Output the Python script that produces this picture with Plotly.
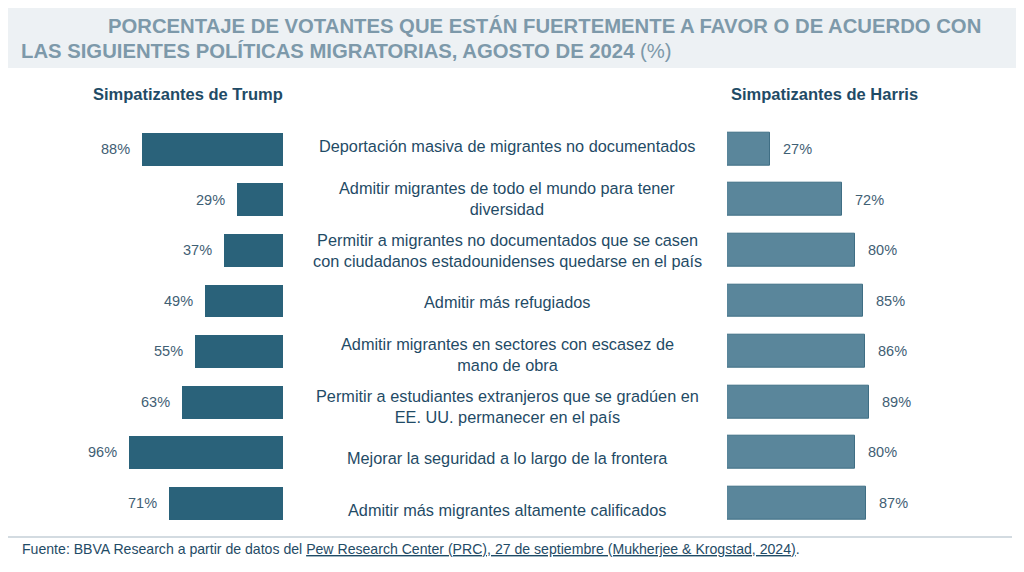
import plotly.graph_objects as go

categories = [
    "Deportación masiva de migrantes no documentados",
    "Admitir migrantes de todo el mundo para tener<br>diversidad",
    "Permitir a migrantes no documentados que se casen<br>con ciudadanos estadounidenses quedarse en el país",
    "Admitir más refugiados",
    "Admitir migrantes en sectores con escasez de<br>mano de obra",
    "Permitir a estudiantes extranjeros que se gradúen en<br>EE. UU. permanecer en el país",
    "Mejorar la seguridad a lo largo de la frontera",
    "Admitir más migrantes altamente calificados",
]
trump = [88, 29, 37, 49, 55, 63, 96, 71]
harris = [27, 72, 80, 85, 86, 89, 80, 87]

# page body has an 8px margin; figure is sized so it fills the window exactly
OFF = 8
W, H = 1024 - OFF, 572 - OFF


def px(x):
    return (x - OFF) / W


def py(y):
    return 1 - (y - OFF) / H


idx = list(range(len(categories)))

TRUMP_C = "#2a627a"
HARRIS_C = "#5a869b"
TEXT_C = "#1f4b66"
LABEL_C = "#3f6074"

fig = go.Figure()
fig.add_trace(go.Bar(y=idx, x=trump, orientation="h", xaxis="x", yaxis="y",
                     marker=dict(color=TRUMP_C, line=dict(width=0)), width=0.65,
                     hoverinfo="x"))
fig.add_trace(go.Bar(y=idx, x=harris, orientation="h", xaxis="x2", yaxis="y2",
                     marker=dict(color=HARRIS_C, line=dict(color="#3f6e84", width=1)), width=0.65,
                     hoverinfo="x"))
# invisible carrier so the text axis exists
fig.add_trace(go.Scatter(x=[50] * len(idx), y=idx, xaxis="x", yaxis="y3", mode="markers",
                         marker=dict(opacity=0), hoverinfo="skip", showlegend=False))

top_px, bot_px = 123.7, 528.3
ydom = [py(bot_px), py(top_px)]
yax = dict(range=[7.5, -0.5], showticklabels=False, showgrid=False,
           zeroline=False, showline=False, fixedrange=True)

fig.update_layout(
    width=W, height=H,
    margin=dict(l=0, r=0, t=0, b=0),
    paper_bgcolor="white", plot_bgcolor="rgba(0,0,0,0)",
    showlegend=False,
    bargap=0,
    xaxis=dict(range=[100, 0], domain=[px(123), px(283)], visible=False, fixedrange=True),
    xaxis2=dict(range=[0, 100], domain=[px(727), px(887)], visible=False, fixedrange=True),
    yaxis=dict(**yax, domain=ydom, anchor="x"),
    yaxis2=dict(**yax, domain=ydom, anchor="x2"),
    yaxis3=dict(**yax, domain=[py(536), py(120)], anchor="x", visible=False),
    font=dict(family="Liberation Sans, Arial, sans-serif"),
)

ann = []
for i, (c, t, h) in enumerate(zip(categories, trump, harris)):
    ann.append(dict(x=px(507), xref="paper", y=i, yref="y3", text=c, showarrow=False,
                    xanchor="center", yanchor="middle", align="center",
                    font=dict(size=16.3, color=TEXT_C)))
    ann.append(dict(x=t, xref="x", y=i, yref="y", text=f"{t}%", showarrow=False,
                    xanchor="right", yanchor="middle", xshift=-10,
                    font=dict(size=14.5, color=LABEL_C)))
    ann.append(dict(x=h, xref="x2", y=i, yref="y2", text=f"{h}%", showarrow=False,
                    xanchor="left", yanchor="middle", xshift=11,
                    font=dict(size=14.5, color=LABEL_C)))

# headers
ann.append(dict(x=px(188), xref="paper", y=py(94), yref="paper", text="<b>Simpatizantes de Trump</b>",
                showarrow=False, xanchor="center", yanchor="middle", font=dict(size=16.5, color=TEXT_C)))
ann.append(dict(x=px(824), xref="paper", y=py(94), yref="paper", text="<b>Simpatizantes de Harris</b>",
                showarrow=False, xanchor="center", yanchor="middle", font=dict(size=16.5, color=TEXT_C)))

# title
TITLE_C = "#7d99aa"
tfont = dict(family="Liberation Sans, Arial, sans-serif", size=20.3, color=TITLE_C)
ann.append(dict(x=px(106), xref="paper", y=py(26), yref="paper",
                text="<b>PORCENTAJE DE VOTANTES QUE ESTÁN FUERTEMENTE A FAVOR O DE ACUERDO CON</b>",
                showarrow=False, xanchor="left", yanchor="middle", font=tfont))
ann.append(dict(x=px(19), xref="paper", y=py(51), yref="paper",
                text="<b>LAS SIGUIENTES POLÍTICAS MIGRATORIAS, AGOSTO DE 2024</b> (%)",
                showarrow=False, xanchor="left", yanchor="middle", font=tfont))

# footer
ann.append(dict(x=px(20), xref="paper", y=py(549), yref="paper",
                text="Fuente: BBVA Research a partir de datos del <u>Pew Research Center (PRC), 27 de septiembre (Mukherjee &amp; Krogstad, 2024)</u>.",
                showarrow=False, xanchor="left", yanchor="middle",
                font=dict(family="Liberation Sans, Arial, sans-serif", size=14.1, color=TEXT_C)))

fig.update_layout(annotations=ann)

fig.add_shape(type="rect", xref="paper", yref="paper", x0=px(8), x1=px(1020),
              y0=py(68), y1=py(8), fillcolor="#edf1f4", line=dict(width=0), layer="below")
fig.add_shape(type="line", xref="paper", yref="paper", x0=px(8), x1=px(1012),
              y0=py(537), y1=py(537), line=dict(color="#d3dbe1", width=2))

fig.write_html("out.html", config=dict(displayModeBar=False))
